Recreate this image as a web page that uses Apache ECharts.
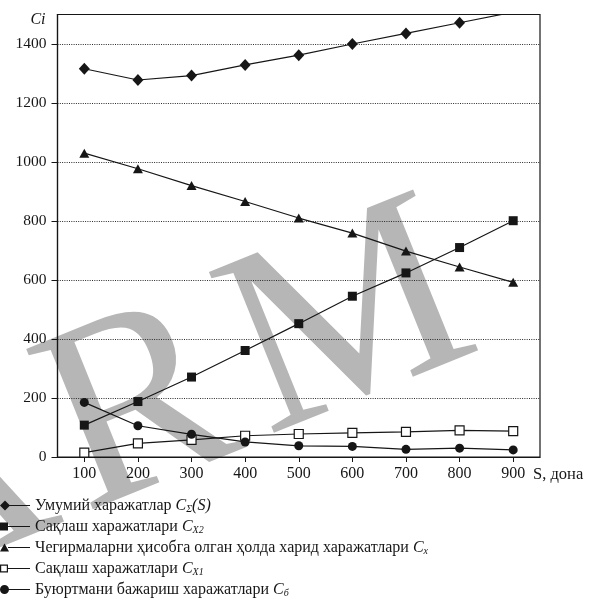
<!DOCTYPE html>
<html>
<head>
<meta charset="utf-8">
<script src="https://cdn.jsdelivr.net/npm/echarts@6/dist/echarts.min.js"></script>
<style>
  html, body { margin: 0; padding: 0; background: #ffffff; }
  #chart { width: 590px; height: 601px; }
</style>
</head>
<body>
<div id="chart"></div>
<script>
// Order size S (pieces) along the horizontal axis
const orderSizes = ['100', '200', '300', '400', '500', '600', '700', '800', '900'];

// Cost components Ci for each order size
const totalCost    = [1316, 1278, 1293, 1329, 1362, 1400, 1436, 1472, 1508]; // C_Σ(S)
const storageCostB = [108, 188, 271, 361, 452, 545, 624, 710, 801];          // C_X2
const purchaseCost = [1030, 977, 920, 866, 810, 759, 698, 644, 592];         // C_x
const storageCostA = [15, 46, 58, 72, 78, 82, 85, 90, 88];                   // C_X1
const orderingCost = [185, 106, 77, 51, 38, 36, 26, 30, 24];                 // C_б

// Value axis ticks
const yTickValues = [0, 200, 400, 600, 800, 1000, 1200, 1400];

// Series keys and legend captions (rich text for italic symbols and subscripts)
const seriesKeys = ['CΣ', 'CX2', 'Cx', 'CX1', 'Cб'];
const legendCaptions = [
  'Умумий харажатлар {i|C}{s|Σ}{i|(S)}',
  'Сақлаш харажатлари {i|C}{s|X2}',
  'Чегирмаларни ҳисобга олган ҳолда харид харажатлари {i|C}{s|x}',
  'Сақлаш харажатлари {i|C}{s|X1}',
  'Буюртмани бажариш харажатлари {i|C}{s|б}'
];

// Library stamp letters
const stampLetters = ['A', 'R', 'M'];

const INK = '#161616';
const SERIF = '"Liberation Serif", "Times New Roman", serif';

// Legend glyphs: marker on the left, line running into the caption
const LEG_LINE = ' M8,4.45 L30,4.45 L30,5.55 L8,5.55 Z';
const legendIcons = [
  'path://M0,5 L5,0 L10,5 L5,10 Z' + LEG_LINE,
  'path://M0,1 L8,1 L8,9 L0,9 Z' + LEG_LINE,
  'path://M0,9 L4.5,1 L9,9 Z' + LEG_LINE,
  'path://M0,1 L8,1 L8,9 L0,9 Z M1.2,2.2 L1.2,7.8 L6.8,7.8 L6.8,2.2 Z' + LEG_LINE,
  'path://M0,5 A4.5,4.5 0 1 1 9,5 A4.5,4.5 0 1 1 0,5 Z' + LEG_LINE
];

function costLine(key, values, symbol, size, fill) {
  return {
    name: key,
    type: 'line',
    data: values,
    symbol: symbol,
    symbolSize: size,
    showSymbol: true,
    clip: true,
    lineStyle: { color: INK, width: 1.2 },
    itemStyle: {
      color: fill,
      borderColor: INK,
      borderWidth: fill === '#ffffff' ? 1.2 : 0
    },
    emphasis: { disabled: true },
    z: 3
  };
}

const chart = echarts.init(document.getElementById('chart'), null, { renderer: 'canvas' });

// Stamp: three large grey serif letters tilted along a rising diagonal
const stampAngle = 22 * Math.PI / 180;
const stampCentres = [[-49, 492], [140, 415], [350, 327]];
const stampGraphic = stampLetters.map((ch, i) => ({
  type: 'text',
  x: stampCentres[i][0],
  y: stampCentres[i][1],
  rotation: stampAngle,
  z: -10,
  silent: true,
  style: {
    text: ch,
    fontSize: 265,
    fontFamily: SERIF,
    fontWeight: 'normal',
    fill: '#b6b6b6',
    align: 'center',
    verticalAlign: 'middle'
  }
}));

chart.setOption({
  animation: false,
  backgroundColor: '#ffffff',
  textStyle: { fontFamily: SERIF, color: INK },
  graphic: stampGraphic,
  grid: {
    left: 57.5,
    right: 50,
    top: 14.5,
    bottom: 144,
    show: true,
    borderColor: INK,
    borderWidth: 1.2,
    backgroundColor: 'transparent'
  },
  legend: {
    orient: 'vertical',
    left: 0,
    top: 497,
    padding: 0,
    itemGap: 4,
    itemWidth: 30,
    itemHeight: 10,
    selectedMode: false,
    data: seriesKeys.map((k, i) => ({
      name: k,
      icon: legendIcons[i],
      itemStyle: { color: INK, borderWidth: 0 }
    })),
    formatter: name => legendCaptions[seriesKeys.indexOf(name)],
    textStyle: {
      fontFamily: SERIF,
      fontSize: 16,
      lineHeight: 17,
      color: INK,
      rich: {
        i: { fontFamily: SERIF, fontSize: 16, fontStyle: 'italic', lineHeight: 17, color: INK },
        s: { fontFamily: SERIF, fontSize: 10, fontStyle: 'italic', lineHeight: 17,
             verticalAlign: 'bottom', color: INK }
      }
    }
  },
  xAxis: {
    type: 'category',
    data: orderSizes,
    boundaryGap: true,
    name: 'S, дона',
    nameLocation: 'end',
    nameGap: -7,
    nameTextStyle: {
      fontFamily: SERIF, fontSize: 16.5, color: INK,
      align: 'left', verticalAlign: 'top', padding: [9, 0, 0, 0]
    },
    axisLine: { show: true, lineStyle: { color: INK, width: 1.2 } },
    axisTick: { show: true, alignWithLabel: true, length: 5, lineStyle: { color: INK } },
    axisLabel: { fontFamily: SERIF, fontSize: 16, color: INK, margin: 9 },
    splitLine: { show: false }
  },
  yAxis: {
    type: 'value',
    min: 0,
    max: 1500,
    interval: 200,
    name: 'Ci',
    nameLocation: 'end',
    nameGap: 3,
    nameTextStyle: {
      fontFamily: SERIF, fontSize: 16, fontStyle: 'italic', color: INK,
      align: 'right', verticalAlign: 'top', padding: [0, 12, 0, 0]
    },
    axisLine: { show: true, lineStyle: { color: INK, width: 1.2 } },
    axisTick: { show: true, length: 6, customValues: yTickValues, lineStyle: { color: INK } },
    axisLabel: {
      fontFamily: SERIF, fontSize: 15.5, color: INK, margin: 11,
      customValues: yTickValues,
      formatter: v => String(v)
    },
    splitLine: { show: true, lineStyle: { color: '#2a2a2a', width: 1, type: [1, 1.3] } }
  },
  series: [
    costLine(seriesKeys[0], totalCost, 'diamond', [11, 12], INK),
    costLine(seriesKeys[1], storageCostB, 'rect', 9, INK),
    costLine(seriesKeys[2], purchaseCost, 'triangle', [10, 9], INK),
    costLine(seriesKeys[3], storageCostA, 'rect', 9, '#ffffff'),
    costLine(seriesKeys[4], orderingCost, 'circle', 9, INK)
  ]
});
</script>
</body>
</html>
